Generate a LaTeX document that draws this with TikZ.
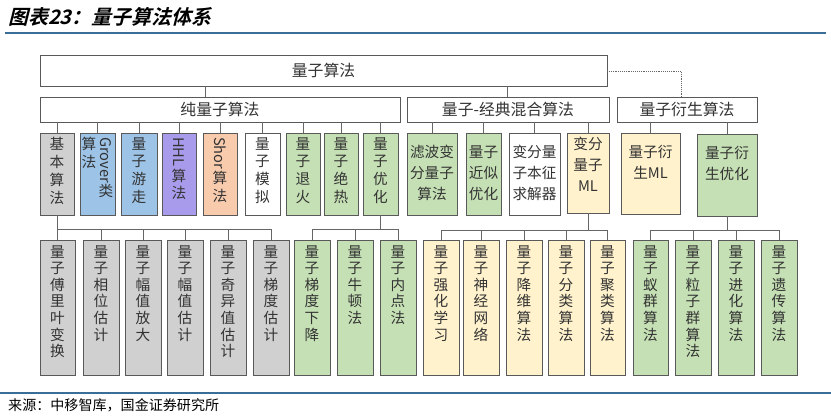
\documentclass[tikz,border=0pt]{standalone}
\usepackage{fontspec}
\setmainfont{Noto Sans CJK SC}
\newfontfamily\titlefont[FakeSlant=0.25]{Noto Sans CJK SC Bold}
\usetikzlibrary{positioning}
\definecolor{fgray}{HTML}{D0D0D0}
\definecolor{fblue}{HTML}{9DC3E6}
\definecolor{fpurple}{HTML}{A99BEB}
\definecolor{forange}{HTML}{F8CBAD}
\definecolor{fgreen}{HTML}{C5E0B4}
\definecolor{fyellow}{HTML}{FFF2CC}
\definecolor{rule}{HTML}{3A6E96}
\tikzset{
    box/.style={draw=black!65, line width=0.6pt, inner sep=0pt, outer sep=0pt},
    vt/.style={align=center, inner sep=0pt, text=black!80, font=\fontsize{12.5}{14.2}\selectfont},
    vtt/.style={align=center, inner sep=0pt, text=black!80, font=\fontsize{12.5}{15.3}\selectfont},
    ht/.style={align=center, inner sep=0pt, text=black!80, font=\fontsize{12.5}{18}\selectfont},
    rt/.style={rotate=-90, anchor=west, inner sep=0pt, text=black!80, font=\fontsize{12.5}{14}\selectfont},
    lvl/.style={text=black!80, font=\fontsize{13.5}{15}\selectfont},
    link/.style={draw=black!60, line width=0.6pt},
}
% box from (x1,y1) to (x2,y2) in pixels
\newcommand\bx[6]{\node[box,#6,minimum width={(#4-#2)*0.03cm},minimum height={(#5-#3)*0.03cm}] (#1) at ({(#2+#4)/2},{(#3+#5)/2}) {};}

\begin{document}
\begin{tikzpicture}[x=0.03cm, y=-0.03cm]
\useasboundingbox (0,0) rectangle (831,418);
% title and rules
\node[anchor=west, inner sep=0pt, font=\titlefont\fontsize{17}{19}\selectfont] (title) at (8,17) {图表23：量子算法体系};
\draw[rule, line width=1.4pt] (5,33) -- (826,33);
\draw[rule, line width=1.2pt] (0,393) -- (831,393);
\node[anchor=west, inner sep=0pt, font=\fontsize{12}{13}\selectfont] (src) at (8,405) {来源：中移智库，国金证券研究所};

% levels 1 and 2
\bx{top}{40}{55}{607}{86}{fill=white}
\node[lvl] at (top) {量子算法};
\bx{pure}{40}{97}{400}{122}{fill=white}
\node[lvl] at (pure) {纯量子算法};
\bx{hyb}{407}{97}{609}{122}{fill=white}
\node[lvl] at (hyb) {量子-经典混合算法};
\bx{der}{617}{97}{757}{122}{fill=white}
\node[lvl] at (der) {量子衍生算法};
\draw[link] (pure.north -| 205,0) -- (top.south -| 205,0);
\draw[link] (hyb.north -| 507,0) -- (top.south -| 507,0);
\draw[link, densely dotted] (top.east |- 0,71) -| (der.north -| 681,0);

% row 3, pure quantum
\bx{basic}{40}{133}{74}{215}{fill=fgray}
\bx{grover}{80}{133}{115}{215}{fill=fblue}
\bx{walk}{121}{133}{157}{215}{fill=fblue}
\bx{hhl}{162}{133}{196}{215}{fill=fpurple}
\bx{shor}{203}{133}{237}{215}{fill=forange}
\bx{sim}{245}{133}{280}{215}{fill=white}
\bx{anneal}{286}{133}{320}{215}{fill=fgreen}
\bx{adiab}{324}{133}{358}{215}{fill=fgreen}
\bx{opt}{363}{133}{398}{215}{fill=fgreen}
\node[vtt, below=0.12cm of basic.north] {基\\本\\算\\法};
\node[vtt, anchor=north] at (89,137) {算\\法};
\node[rt] (grovt) at (106,137) {Grover};
\node[vtt, below=0.03cm of grovt.east] {类};
\node[vtt, below=0.12cm of walk.north] {量\\子\\游\\走};
\node[rt] (hhlt) at (179,137) {HHL};
\node[vtt, below=0.05cm of hhlt.east] {算\\法};
\node[rt] (short) at (220,137) {Shor};
\node[vtt, below=0.05cm of short.east] {算\\法};
\node[vtt, below=0.12cm of sim.north] {量\\子\\模\\拟};
\node[vtt, below=0.12cm of anneal.north] {量\\子\\退\\火};
\node[vtt, below=0.12cm of adiab.north] {量\\子\\绝\\热};
\node[vtt, below=0.12cm of opt.north] {量\\子\\优\\化};
\foreach \c in {basic,grover,walk,hhl,shor,sim,anneal,adiab,opt}
    \draw[link] (\c.north) -- (\c.north |- pure.south);

% row 3, hybrid and derived
\bx{filt}{407}{133}{457}{215}{fill=fgreen}
\bx{qaoa}{466}{133}{501}{215}{fill=fgreen}
\bx{vqe}{509}{133}{560}{215}{fill=white}
\bx{vqml}{567}{133}{609}{213}{fill=fyellow}
\bx{dml}{621}{133}{680}{214}{fill=fyellow}
\bx{dopt}{697}{134}{757}{216}{fill=fgreen}
\node[ht, below=0.36cm of filt.north] {滤波变\\分量子\\算法};
\node[ht, below=0.36cm of qaoa.north] {量子\\近似\\优化};
\node[ht, below=0.36cm of vqe.north] {变分量\\子本征\\求解器};
\node[ht, below=0.1cm of vqml.north] {变分\\量子\\ML};
\node[ht, below=0.36cm of dml.north] {量子衍\\生ML};
\node[ht, below=0.36cm of dopt.north] {量子衍\\生优化};
\foreach \c in {filt,qaoa,vqe,vqml}
    \draw[link] (\c.north) -- (\c.north |- hyb.south);
\foreach \c in {dml,dopt}
    \draw[link] (\c.north) -- (\c.north |- der.south);

% bottom row
\bx{qft}{40}{240}{75}{375}{fill=fgray}
\bx{qpe}{83}{240}{119}{375}{fill=fgray}
\bx{qaa}{125}{240}{161}{375}{fill=fgray}
\bx{qae}{167}{240}{203}{375}{fill=fgray}
\bx{qsv}{210}{240}{246}{375}{fill=fgray}
\bx{qge}{253}{240}{289}{375}{fill=fgray}
\bx{qgd}{294}{240}{330}{375}{fill=fgreen}
\bx{qnt}{337}{240}{373}{375}{fill=fgreen}
\bx{qip}{380}{240}{416}{375}{fill=fgreen}
\bx{qrl}{423}{240}{459}{375}{fill=fyellow}
\bx{qnn}{463}{240}{499}{375}{fill=fyellow}
\bx{qdr}{506}{240}{542}{375}{fill=fyellow}
\bx{qcl}{548}{240}{584}{375}{fill=fyellow}
\bx{qcu}{590}{240}{625}{375}{fill=fyellow}
\bx{qac}{633}{240}{668}{375}{fill=fgreen}
\bx{qps}{675}{240}{711}{375}{fill=fgreen}
\bx{qev}{718}{240}{754}{375}{fill=fgreen}
\bx{qga}{761}{240}{797}{375}{fill=fgreen}
\foreach \c/\t in {qft/{量\\子\\傅\\里\\叶\\变\\换}, qpe/{量\\子\\相\\位\\估\\计},
    qaa/{量\\子\\幅\\值\\放\\大}, qae/{量\\子\\幅\\值\\估\\计},
    qsv/{量\\子\\奇\\异\\值\\估\\计}, qge/{量\\子\\梯\\度\\估\\计},
    qgd/{量\\子\\梯\\度\\下\\降}, qnt/{量\\子\\牛\\顿\\法}, qip/{量\\子\\内\\点\\法},
    qrl/{量\\子\\强\\化\\学\\习}, qnn/{量\\子\\神\\经\\网\\络},
    qdr/{量\\子\\降\\维\\算\\法}, qcl/{量\\子\\分\\类\\算\\法},
    qcu/{量\\子\\聚\\类\\算\\法}, qac/{量\\子\\蚁\\群\\算\\法},
    qps/{量\\子\\粒\\子\\群\\算\\法}, qev/{量\\子\\进\\化\\算\\法},
    qga/{量\\子\\遗\\传\\算\\法}}
    \node[vt, below=0.15cm of \c.north] {\t};
\foreach \c in {qft,qpe,qaa,qae,qsv,qge}
    \draw[link] (basic.south) -- ++(0,14) -| (\c.north);
\foreach \c in {qgd,qnt,qip}
    \draw[link] (opt.south) -- ++(0,14) -| (\c.north);
\foreach \c in {qrl,qnn,qdr,qcl,qcu}
    \draw[link] (vqml.south) -- ++(0,17) -| (\c.north);
\foreach \c in {qac,qps,qev,qga}
    \draw[link] (dopt.south) -- ++(0,14) -| (\c.north);
\end{tikzpicture}
\end{document}
